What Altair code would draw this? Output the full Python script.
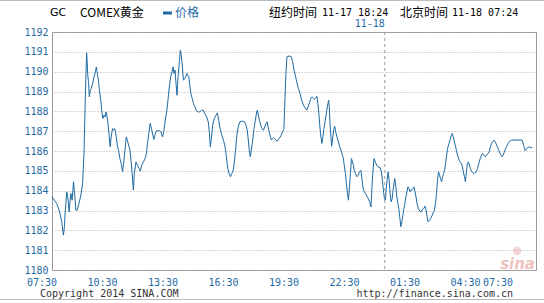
import altair as alt
import pandas as pd

# ---- data (minutes after 07:30 Beijing time, price) ----
minutes = [0, 14, 22, 29, 34, 37, 39, 44, 47, 51, 56, 60, 64, 68, 71, 75, 80, 85, 91, 95,
           99, 101, 103, 105, 106, 109, 111, 114, 117, 121, 125, 129, 132, 134, 138, 141, 145, 148, 151, 155,
           158, 161, 164, 167, 170, 173, 176, 180, 183, 186, 189, 191, 195, 198, 202, 206, 210, 213, 217, 221,
           224, 228, 232, 235, 238, 242, 245, 250, 254, 259, 263, 267, 272, 277, 281, 284, 288, 292, 296, 300,
           303, 306, 311, 319, 324, 329, 333, 337, 341, 345, 349, 353, 357, 360, 363, 366, 369, 372, 375, 379,
           382, 385, 388, 391, 395, 398, 401, 404, 407, 410, 413, 417, 421, 425, 430, 435, 440, 445, 450, 455,
           460, 465, 468, 471, 474, 478, 483, 488, 492, 496, 500, 505, 510, 514, 517, 520, 523, 527, 531, 535,
           539, 542, 546, 550, 554, 559, 564, 569, 573, 577, 581, 584, 587, 590, 593, 597, 601, 605, 609, 611,
           614, 617, 621, 625, 629, 633, 637, 640, 643, 646, 650, 653, 656, 659, 662, 666, 670, 674, 678, 682,
           686, 690, 693, 696, 699, 702, 708, 712, 716, 720, 724, 728, 733, 738, 743, 748, 753, 758, 762, 766,
           770, 774, 778, 781, 785, 788, 791, 794, 797, 800, 803, 806, 809, 813, 817, 820, 823, 825, 827, 830,
           832, 835, 838, 841, 844, 848, 852, 856, 860, 864, 867, 870, 873, 876, 879, 882, 885, 888, 891, 894,
           897, 899, 903, 907, 911, 915, 919, 922, 925, 929, 933, 937, 941, 945, 949, 952, 955, 958, 962, 966,
           970, 976, 980, 983, 986, 989, 992, 994, 997, 1000, 1003, 1006, 1009, 1012, 1015, 1018, 1020, 1023, 1026, 1029,
           1032, 1035, 1038, 1041, 1044, 1047, 1050, 1053, 1056, 1059, 1062, 1065, 1068, 1071, 1074, 1077, 1080, 1083, 1086, 1090,
           1094, 1098, 1102, 1106, 1110, 1113, 1116, 1119, 1123, 1127, 1131, 1135, 1138, 1141, 1144, 1147, 1150, 1153, 1156, 1159,
           1162, 1165, 1168, 1171, 1174, 1177, 1181, 1185, 1188, 1191, 1194, 1197, 1201, 1204, 1208, 1211, 1214, 1218, 1221, 1224,
           1227, 1230, 1233, 1236, 1239, 1242, 1245, 1248, 1251, 1255, 1258, 1262, 1266, 1270, 1274, 1278, 1281, 1285, 1289, 1293,
           1297, 1301, 1304, 1308, 1311, 1315, 1319, 1323, 1327, 1331, 1335, 1339, 1342, 1345, 1348, 1351, 1354, 1357, 1360, 1363,
           1368, 1399, 1403, 1406, 1408, 1411, 1415, 1419, 1423, 1429]
prices = [1183.69, 1183.35, 1182.98, 1182.43, 1181.76, 1182.18, 1182.85, 1183.94, 1183.69, 1182.93,
          1183.86, 1183.52, 1184.45, 1183.69, 1183.02, 1183.02, 1183.35, 1183.69, 1184.36, 1185.79,
          1188.56, 1189.91, 1190.95, 1190.41, 1189.91, 1189.40, 1188.73, 1189.07, 1189.15, 1189.40,
          1189.74, 1189.99, 1190.24, 1189.99, 1189.57, 1189.07, 1188.56, 1188.06, 1187.64, 1187.81,
          1187.72, 1187.97, 1187.72, 1187.30, 1186.80, 1186.21, 1186.71, 1187.13, 1187.05, 1187.13,
          1186.97, 1186.71, 1186.21, 1186.04, 1185.62, 1185.37, 1184.95, 1185.37, 1186.04, 1186.71,
          1186.55, 1186.29, 1186.04, 1185.54, 1184.95, 1184.03, 1184.87, 1185.45, 1185.29, 1185.12,
          1184.98, 1185.29, 1185.45, 1185.62, 1185.87, 1186.38, 1186.88, 1187.39, 1187.13, 1186.80,
          1186.58, 1186.80, 1187.02, 1187.02, 1186.97, 1186.71, 1187.05, 1187.55, 1187.97, 1188.56,
          1189.23, 1189.74, 1189.99, 1190.24, 1189.91, 1190.08, 1189.40, 1188.81, 1189.74, 1190.50,
          1191.08, 1190.75, 1190.24, 1189.57, 1189.66, 1189.74, 1189.91, 1189.82, 1189.74, 1189.32,
          1188.90, 1188.65, 1188.40, 1188.23, 1188.02, 1187.97, 1187.97, 1188.06, 1188.06, 1187.89,
          1187.72, 1187.47, 1186.97, 1186.21, 1186.63, 1187.30, 1187.64, 1187.81, 1187.92, 1187.55,
          1187.13, 1186.80, 1186.55, 1186.29, 1185.96, 1185.54, 1185.12, 1184.86, 1184.70, 1184.86,
          1185.03, 1185.37, 1186.04, 1186.80, 1187.22, 1187.47, 1187.50, 1187.50, 1187.47, 1187.30,
          1187.05, 1186.55, 1186.04, 1185.71, 1186.04, 1186.55, 1187.13, 1187.55, 1187.97, 1188.06,
          1187.81, 1187.55, 1187.30, 1187.13, 1187.05, 1187.22, 1187.39, 1187.47, 1187.22, 1186.97,
          1186.71, 1186.55, 1186.63, 1186.68, 1186.63, 1186.55, 1186.49, 1186.58, 1186.68, 1186.80,
          1186.97, 1187.13, 1188.56, 1189.91, 1190.75, 1190.78, 1190.78, 1190.75, 1190.50, 1190.08,
          1189.82, 1189.49, 1189.15, 1188.90, 1188.56, 1188.31, 1188.17, 1188.06, 1188.23, 1188.43,
          1188.65, 1188.73, 1188.65, 1188.60, 1188.70, 1188.76, 1188.40, 1187.89, 1187.22, 1186.71,
          1186.38, 1186.71, 1187.13, 1187.55, 1187.97, 1188.31, 1188.56, 1188.23, 1187.39, 1186.71,
          1186.24, 1186.63, 1187.05, 1187.25, 1186.97, 1186.71, 1186.46, 1186.21, 1186.04, 1185.79,
          1185.62, 1185.20, 1184.86, 1184.36, 1183.86, 1183.52, 1184.19, 1184.86, 1185.62, 1185.45,
          1185.29, 1185.03, 1184.86, 1184.70, 1184.78, 1184.95, 1185.03, 1184.61, 1184.19, 1183.94,
          1183.86, 1183.72, 1183.60, 1183.44, 1183.18, 1184.19, 1185.03, 1185.62, 1185.45, 1185.29,
          1185.20, 1185.17, 1184.95, 1184.53, 1184.03, 1183.60, 1183.52, 1184.03, 1184.53, 1184.95,
          1184.53, 1183.86, 1183.44, 1183.60, 1184.03, 1184.45, 1184.61, 1184.19, 1183.69, 1183.35,
          1183.10, 1182.60, 1182.18, 1182.43, 1182.76, 1183.10, 1183.35, 1183.69, 1183.94, 1184.19,
          1184.11, 1183.94, 1184.03, 1184.03, 1184.11, 1184.19, 1183.94, 1183.69, 1183.35, 1183.10,
          1182.98, 1182.93, 1183.05, 1183.10, 1183.22, 1183.02, 1182.68, 1182.43, 1182.51, 1182.60,
          1182.76, 1182.93, 1183.02, 1183.35, 1183.86, 1184.53, 1184.95, 1184.78, 1184.61, 1184.45,
          1184.70, 1184.86, 1185.03, 1185.37, 1185.79, 1186.13, 1186.38, 1186.58, 1186.80, 1186.88,
          1186.71, 1186.46, 1186.21, 1185.96, 1185.71, 1185.54, 1185.45, 1185.37, 1185.20, 1184.95,
          1184.70, 1184.45, 1184.95, 1185.37, 1185.45, 1185.29, 1185.12, 1184.98, 1184.92, 1184.86,
          1184.90, 1184.95, 1185.12, 1185.37, 1185.62, 1185.79, 1185.87, 1185.79, 1185.71, 1185.79,
          1185.87, 1185.96, 1186.21, 1186.38, 1186.46, 1186.55, 1186.46, 1186.29, 1186.13, 1185.96,
          1185.82, 1185.71, 1185.79, 1185.91, 1186.04, 1186.18, 1186.29, 1186.38, 1186.46, 1186.51,
          1186.55, 1186.55, 1186.29, 1186.13, 1186.01, 1186.09, 1186.18, 1186.21, 1186.18, 1186.18]

y_ticks = list(range(1180, 1193))
x_tick_minutes = [0, 180, 360, 540, 720, 900, 1080, 1260, 1440]
x_tick_labels = ["07:30", "10:30", "13:30", "16:30", "19:30", "22:30", "01:30", "04:30", "07:30"]
date_change_minute = [990]
date_change_label = ["11-18"]

symbol = "GC"
name = "COMEX黄金"
series_name = "价格"
ny_label, ny_time = "纽约时间", "11-17 18:24"
bj_label, bj_time = "北京时间", "11-18 07:24"
copyright_text = "Copyright 2014 SINA.COM"
url_text = "http://finance.sina.com.cn"

BLUE = "#1f6aa5"
LINE = "#1d6aa3"
GRID = "#aaaaaa"
MONO = "DejaVu Sans Mono"
CJK = "Noto Sans CJK SC"
W, H = 484, 238

df = pd.DataFrame({"t": minutes, "p": prices})
dc = pd.DataFrame({"t": date_change_minute, "lab": date_change_label})
ticks_df = pd.DataFrame({"t": x_tick_minutes, "lab": x_tick_labels})
one = pd.DataFrame({"k": [0]})

xscale = alt.Scale(domain=[0, 1440], nice=False, zero=False)
yscale = alt.Scale(domain=[1180, 1192], nice=False, zero=False)

line = alt.Chart(df).mark_line(color=LINE, strokeWidth=1, interpolate="linear").encode(
    x=alt.X("t:Q", scale=xscale, axis=alt.Axis(
        values=x_tick_minutes, labels=False, title=None, grid=True,
        gridDash=[1, 2], gridColor=GRID, domain=False, ticks=False)),
    y=alt.Y("p:Q", scale=yscale, axis=alt.Axis(
        values=y_ticks, format="d", title=None, grid=True, gridDash=[1, 2], gridColor=GRID,
        domain=False, ticks=False, labelColor=BLUE, labelFont=MONO, labelFontSize=10,
        labelPadding=4, labelFlush=False, labelBound=False, labelOverlap=False)),
)

# x tick labels as text marks (the reference places them slightly left of the grid lines)
xlab_main = alt.Chart(ticks_df.iloc[:-1]).mark_text(
    align="center", baseline="middle", dx=-10, color=BLUE, font=MONO, fontSize=10
).encode(x=alt.X("t:Q", scale=xscale, axis=None), y=alt.value(H + 13), text="lab:N")
xlab_last = alt.Chart(ticks_df.iloc[-1:]).mark_text(
    align="right", baseline="middle", dx=-23, color=BLUE, font=MONO, fontSize=10
).encode(x=alt.X("t:Q", scale=xscale, axis=None), y=alt.value(H + 13), text="lab:N")

midnight = alt.Chart(dc).mark_rule(color="#999999", strokeDash=[3, 3], strokeWidth=1).encode(
    x=alt.X("t:Q", scale=xscale, axis=None)
)
midnight_lab = alt.Chart(dc).mark_text(
    align="right", baseline="middle", dx=0, color=BLUE, font=MONO, fontSize=10
).encode(x=alt.X("t:Q", scale=xscale, axis=None), y=alt.value(-8.5), text="lab:N")


def txt(s, x, y, color="#000000", font=CJK, size=12, align="left", **kw):
    return alt.Chart(one).mark_text(
        align=align, baseline="middle", color=color, font=font, fontSize=size, **kw
    ).encode(x=alt.value(x), y=alt.value(y), text=alt.value(s))


header = [
    txt(symbol, -2, -19, font="DejaVu Sans", size=11),
    txt(name, 28, -19, size=12),
    txt(series_name, 123, -19, color=BLUE, size=12),
    txt(ny_label, 217, -19, size=12),
    txt(ny_time, 270, -19, font=MONO, size=10),
    txt(bj_label, 348, -19, size=12),
    txt(bj_time, 400, -19, font=MONO, size=10),
    txt(copyright_text, -12, 262, color="#333333", font=MONO, size=10),
    txt(url_text, 461, 262, color="#333333", font=MONO, size=10, align="right"),
]

legend_sym = alt.Chart(one).mark_rule(color=BLUE, strokeWidth=3).encode(
    x=alt.value(111), x2=alt.value(120), y=alt.value(-19)
)
top_line = alt.Chart(one).mark_rule(color="#bbbbbb", strokeWidth=1).encode(
    x=alt.value(-52), x2=alt.value(492), y=alt.value(-31.5)
)
bottom_line = alt.Chart(one).mark_rule(color="#bbbbbb", strokeWidth=1).encode(
    x=alt.value(-52), x2=alt.value(492), y=alt.value(267.5)
)
logo_eye = alt.Chart(one).mark_point(filled=True, color="#e7a0a0", opacity=0.45, size=70).encode(
    x=alt.value(465), y=alt.value(219)
)
logo = alt.Chart(one).mark_text(
    align="right", baseline="alphabetic", color="#e7a0a0", opacity=0.65,
    font="DejaVu Sans", fontSize=15, fontStyle="italic", fontWeight="bold"
).encode(x=alt.value(483), y=alt.value(237), text=alt.value("sina"))

chart = alt.layer(
    line, xlab_main, xlab_last, midnight, midnight_lab, legend_sym, top_line, bottom_line,
    logo_eye, logo, *header
).properties(
    width=W, height=H,
    autosize=alt.AutoSizeParams(type="none"),
    padding={"left": 52, "top": 32, "right": 8, "bottom": 33},
    background="white",
).configure_view(stroke="#999999", strokeWidth=1)

chart.save("out.html", embed_options={"renderer": "svg", "actions": False})
